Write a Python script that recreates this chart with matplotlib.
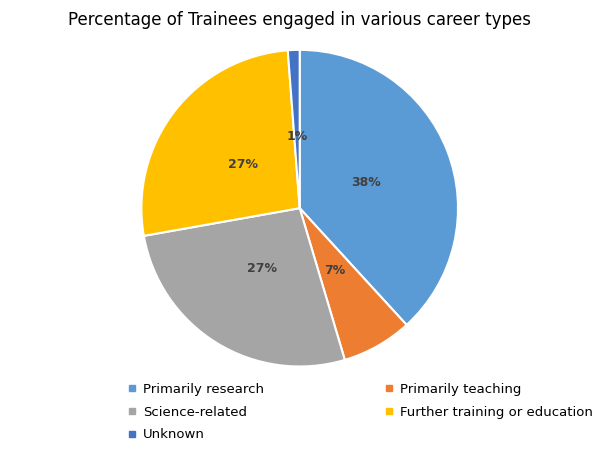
import matplotlib
matplotlib.use("Agg")
import matplotlib.pyplot as plt
from matplotlib.lines import Line2D

categories = ["Primarily research", "Primarily teaching", "Science-related",
              "Further training or education", "Unknown"]
values = [38.2, 7.2, 26.8, 26.6, 1.2]
colors = ["#5B9BD5", "#ED7D31", "#A5A5A5", "#FFC000", "#4472C4"]

fig = plt.figure(figsize=(6, 4.55), dpi=100)
ax = fig.add_axes([0.233, 0.191, 0.533, 0.703])
wedges, texts, autotexts = ax.pie(values, colors=colors, startangle=90, counterclock=False,
       autopct="%1.0f%%", pctdistance=0.45,
       wedgeprops=dict(edgecolor="white", linewidth=1.5),
       textprops=dict(fontsize=9, fontweight="bold", color="#404040"))
ax.set_aspect("equal")
ax.set_xlim(-1.01, 1.01)
ax.set_ylim(-1.01, 1.01)
fig.text(0.5, 0.955, "Percentage of Trainees engaged in various career types",
         ha="center", va="center", fontsize=12, color="#000000")

handles = [Line2D([], [], marker="s", linestyle="none", markersize=5,
                  markerfacecolor=c, markeredgecolor=c) for c in colors]
order = [0, 2, 4, 1, 3]
fig.legend([handles[i] for i in order], [categories[i] for i in order], ncol=2,
           loc="upper left", bbox_to_anchor=(0.19, 0.185),
           frameon=False, fontsize=9.5, handletextpad=0.3, columnspacing=9.0,
           labelspacing=0.75, handlelength=1.0)
fig.savefig("out.png", dpi=100)
